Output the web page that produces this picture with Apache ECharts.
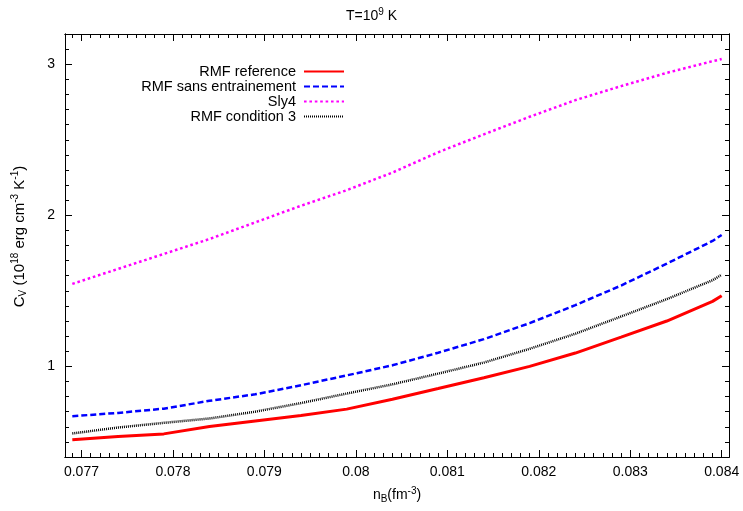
<!DOCTYPE html>
<html>
<head>
<meta charset="utf-8">
<script src="https://cdn.jsdelivr.net/npm/echarts@6/dist/echarts.min.js"></script>
<style>
  html, body { margin: 0; padding: 0; background: #fff; }
  #chart { width: 743px; height: 511px; }
</style>
</head>
<body>
<div id="chart"></div>
<script>
// densite baryonique (fm^-3)
const nB = [0.0769, 0.0774, 0.0779, 0.0784, 0.0789, 0.0794, 0.0799, 0.0804,
  0.0809, 0.0814, 0.0819, 0.0824, 0.0829, 0.0834, 0.0839, 0.084]

const rmfReference = [0.514, 0.536, 0.553, 0.602, 0.639, 0.674, 0.717, 0.782,
  0.853, 0.925, 1.0, 1.088, 1.193, 1.30, 1.43, 1.467]
const rmfSansEntrainement = [0.670, 0.692, 0.72, 0.772, 0.815, 0.875, 0.94, 1.007,
  1.09, 1.18, 1.286, 1.405, 1.535, 1.68, 1.83, 1.87]
const sly4 = [1.546, 1.645, 1.744, 1.843, 1.953, 2.063, 2.166, 2.283,
  2.417, 2.536, 2.652, 2.762, 2.855, 2.943, 3.02, 3.034]
const rmfCondition3 = [0.556, 0.595, 0.626, 0.655, 0.70, 0.757, 0.82, 0.881,
  0.952, 1.025, 1.116, 1.216, 1.33, 1.445, 1.57, 1.607]

const xTicks = [0.077, 0.078, 0.079, 0.08, 0.081, 0.082, 0.083, 0.084]
const yTicks = [1, 2, 3]

const xMin = 0.07682, xMax = 0.08408
const yMin = 0.4, yMax = 3.2

// petites graduations (style gnuplot)
const xMinor = []
for (let i = 769; i <= 840; i++) xMinor.push(+(i / 10000).toFixed(4))
const yMinor = []
for (let i = 4; i <= 32; i++) yMinor.push(+(i / 10).toFixed(1))

const font = 'Liberation Sans'
const pair = arr => nB.map((x, i) => [x, arr[i]])

const richSubSup = {
  sub: { fontSize: 10, fontFamily: font, color: '#000', padding: [7, 0, 0, 0] },
  sup: { fontSize: 10, fontFamily: font, color: '#000', padding: [0, 0, 9, 0] }
}

function xAxisPair(position, showLabel) {
  const common = {
    type: 'value', position, min: xMin, max: xMax,
    splitLine: { show: false },
    axisLine: { show: true, lineStyle: { color: '#000', width: 1 } }
  }
  return [
    Object.assign({}, common, {
      axisTick: { show: true, inside: true, length: 4, customValues: xMinor, lineStyle: { color: '#000' } },
      axisLabel: showLabel
        ? { show: true, customValues: xTicks, color: '#000', fontFamily: font, fontSize: 14, margin: 8 }
        : { show: false },
      name: showLabel ? 'n{sub|B}(fm{sup|-3})' : '',
      nameLocation: 'middle',
      nameGap: 29,
      nameTextStyle: { color: '#000', fontFamily: font, fontSize: 14, rich: richSubSup }
    }),
    Object.assign({}, common, {
      axisTick: { show: true, inside: true, length: 7, customValues: xTicks, lineStyle: { color: '#000' } },
      axisLabel: { show: false }
    })
  ]
}

function yAxisPair(position, showLabel) {
  const common = {
    type: 'value', position, min: yMin, max: yMax,
    splitLine: { show: false },
    axisLine: { show: true, lineStyle: { color: '#000', width: 1 } }
  }
  return [
    Object.assign({}, common, {
      axisTick: { show: true, inside: true, length: 4, customValues: yMinor, lineStyle: { color: '#000' } },
      axisLabel: showLabel
        ? { show: true, customValues: yTicks, color: '#000', fontFamily: font, fontSize: 14, margin: 10 }
        : { show: false },
      name: showLabel ? 'C{sub|V} (10{sup|18} erg cm{sup|-3} K{sup|-1})' : '',
      nameLocation: 'middle',
      nameRotate: 90,
      nameGap: 36,
      nameTextStyle: {
        color: '#000', fontFamily: font, fontSize: 15,
        padding: [0, 0, 0, 18],
        rich: richSubSup
      }
    }),
    Object.assign({}, common, {
      axisTick: { show: true, inside: true, length: 7, customValues: yTicks, lineStyle: { color: '#000' } },
      axisLabel: { show: false }
    })
  ]
}

function lineSeries(name, data, color, type, width) {
  return {
    name, type: 'line', data: pair(data),
    xAxisIndex: 0, yAxisIndex: 0,
    symbol: 'none', showSymbol: false, smooth: false,
    lineStyle: { color, width, type, cap: 'butt' },
    itemStyle: { color },
    emphasis: { disabled: true },
    animation: false
  }
}

const chart = echarts.init(document.getElementById('chart'))
chart.setOption({
  backgroundColor: '#fff',
  animation: false,
  title: {
    text: 'T=10{sup|9} K',
    left: 'center',
    top: 2,
    textStyle: {
      color: '#000', fontFamily: font, fontSize: 14, fontWeight: 'normal',
      rich: { sup: { fontSize: 10, fontFamily: font, color: '#000', padding: [0, 0, 8, 0] } }
    }
  },
  grid: { left: 65, right: 14, top: 34, bottom: 54, containLabel: false },
  legend: {
    orient: 'vertical',
    align: 'right',
    right: 393,
    top: 59,
    itemWidth: 40,
    itemHeight: 12,
    itemGap: 0,
    itemStyle: { opacity: 0 },
    textStyle: { color: '#000', fontFamily: font, fontSize: 14.5, padding: [0, 3, 0, 0], lineHeight: 14 },
    data: ['RMF reference', 'RMF sans entrainement', 'Sly4', 'RMF condition 3']
  },
  xAxis: [...xAxisPair('bottom', true), ...xAxisPair('top', false)],
  yAxis: [...yAxisPair('left', true), ...yAxisPair('right', false)],
  series: [
    lineSeries('RMF reference', rmfReference, '#ff0000', 'solid', 3),
    lineSeries('RMF sans entrainement', rmfSansEntrainement, '#0000ff', [6, 3], 2.5),
    lineSeries('Sly4', sly4, '#ff00ff', [2.6, 2.8], 2.5),
    lineSeries('RMF condition 3', rmfCondition3, '#000000', [1, 1], 2.5)
  ]
})
</script>
</body>
</html>
